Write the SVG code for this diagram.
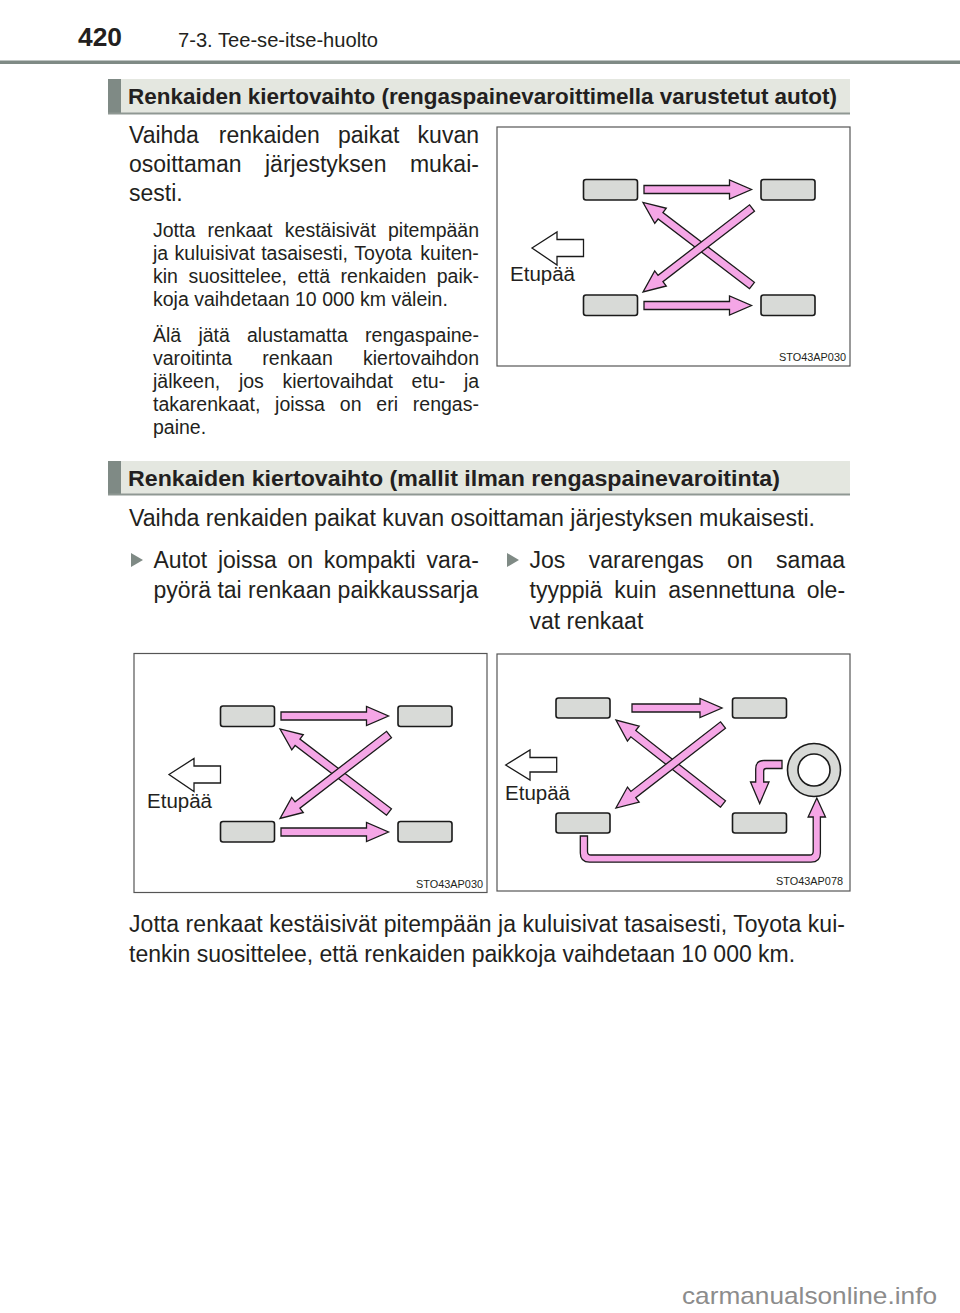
<svg xmlns="http://www.w3.org/2000/svg" width="960" height="1313" viewBox="0 0 960 1313">
<style>
text{font-family:"Liberation Sans",Arial,Helvetica,sans-serif;fill:#231f20}
.pg{font-weight:bold;font-size:25px}
.chap{font-size:19.5px}
.hdr{font-weight:bold;font-size:22px}
.body{font-size:23px}
.small{font-size:19.5px}
.lab{font-size:20px}
.code{font-size:11px}
.wm{font-size:24px;fill:#8c8c8c}
.band{fill:#e4e7e0}
.bar{fill:#7f8a85}
.fig{fill:#fff;stroke:#555;stroke-width:1.2}
.tyre{fill:#d8dad7;stroke:#1a1a1a;stroke-width:1.6}
.pink{fill:#f5a6e6;stroke:#1a1a1a;stroke-width:1.3;stroke-linejoin:miter}
.front{fill:#fff;stroke:#1a1a1a;stroke-width:1.3}
.bul{fill:#7f8a85}
</style>
<rect width="960" height="1313" fill="#fff"/>

<g id="page-header">
<text class="pg" x="78" y="46" textLength="44" lengthAdjust="spacingAndGlyphs">420</text>
<text class="chap" x="178" y="47" textLength="200" lengthAdjust="spacingAndGlyphs">7-3. Tee-se-itse-huolto</text>
<rect x="0" y="60.5" width="960" height="3.5" class="bar"/>
</g>

<g id="section1-header">
<rect x="108" y="79" width="742" height="35" class="band"/>
<rect x="108" y="79" width="13" height="35" class="bar"/>
<rect x="108" y="112.5" width="742" height="2" fill="#8f9893"/>
<text class="hdr" x="128" y="104" textLength="709" lengthAdjust="spacingAndGlyphs">Renkaiden kiertovaihto (rengaspainevaroittimella varustetut autot)</text>
</g>

<g id="section1-text">
<text class="body" y="143"><tspan x="129">Vaihda</tspan><tspan x="218.8">renkaiden</tspan><tspan x="338">paikat</tspan><tspan x="417.6">kuvan</tspan></text>
<text class="body" y="172"><tspan x="129">osoittaman</tspan><tspan x="265">järjestyksen</tspan><tspan x="409.9">mukai-</tspan></text>
<text class="body" x="129" y="201">sesti.</text>
<text class="small" y="237"><tspan x="153">Jotta</tspan><tspan x="207.5">renkaat</tspan><tspan x="284.8">kestäisivät</tspan><tspan x="388">pitempään</tspan></text>
<text class="small" y="260"><tspan x="153">ja</tspan><tspan x="174.6">kuluisivat</tspan><tspan x="261.2">tasaisesti,</tspan><tspan x="354.3">Toyota</tspan><tspan x="420.3">kuiten-</tspan></text>
<text class="small" y="283"><tspan x="153">kin</tspan><tspan x="188.4">suosittelee,</tspan><tspan x="297.6">että</tspan><tspan x="340.6">renkaiden</tspan><tspan x="436.7">paik-</tspan></text>
<text class="small" x="153" y="306">koja vaihdetaan 10 000 km välein.</text>
<text class="small" y="342"><tspan x="153">Älä</tspan><tspan x="198.4">jätä</tspan><tspan x="247">alustamatta</tspan><tspan x="365.1">rengaspaine-</tspan></text>
<text class="small" y="365"><tspan x="153">varoitinta</tspan><tspan x="262.3">renkaan</tspan><tspan x="363">kiertovaihdon</tspan></text>
<text class="small" y="388"><tspan x="153">jälkeen,</tspan><tspan x="238.9">jos</tspan><tspan x="282.4">kiertovaihdat</tspan><tspan x="411.6">etu-</tspan><tspan x="463.9">ja</tspan></text>
<text class="small" y="411"><tspan x="153">takarenkaat,</tspan><tspan x="275.1">joissa</tspan><tspan x="339.8">on</tspan><tspan x="376.3">eri</tspan><tspan x="412.8">rengas-</tspan></text>
<text class="small" x="153" y="434">paine.</text>
</g>

<g id="figure1">
<rect x="497" y="127" width="353" height="239" class="fig"/>
<rect x="583.5" y="179.5" width="54" height="20.5" rx="2.5" class="tyre"/>
<rect x="761" y="179.5" width="54" height="20.5" rx="2.5" class="tyre"/>
<rect x="583.5" y="295" width="54" height="20.5" rx="2.5" class="tyre"/>
<rect x="761" y="295" width="54" height="20.5" rx="2.5" class="tyre"/>
<path class="front" d="M532,248 L557,232 V239.5 H583.5 V256.5 H557 V265 Z"/>
<text class="lab" x="510" y="281" textLength="65" lengthAdjust="spacingAndGlyphs">Etupää</text>
<text class="code" x="779" y="361" textLength="67" lengthAdjust="spacingAndGlyphs">STO43AP030</text>
</g>

<g id="section2-header">
<rect x="108" y="461" width="742" height="34" class="band"/>
<rect x="108" y="461" width="13" height="34" class="bar"/>
<rect x="108" y="493.5" width="742" height="2" fill="#8f9893"/>
<text class="hdr" x="128" y="486" textLength="652" lengthAdjust="spacingAndGlyphs">Renkaiden kiertovaihto (mallit ilman rengaspainevaroitinta)</text>
</g>

<g id="section2-text">
<text class="body" x="129" y="526" textLength="686" lengthAdjust="spacingAndGlyphs">Vaihda renkaiden paikat kuvan osoittaman järjestyksen mukaisesti.</text>
<path class="bul" d="M131,553 L143,560 L131,567 Z"/>
<text class="body" y="568"><tspan x="153.5">Autot</tspan><tspan x="217.9">joissa</tspan><tspan x="287.4">on</tspan><tspan x="323.7">kompakti</tspan><tspan x="426.4">vara-</tspan></text>
<text class="body" x="153.5" y="598">pyörä tai renkaan paikkaussarja</text>
<path class="bul" d="M507,553 L519,560 L507,567 Z"/>
<text class="body" y="568"><tspan x="529.5">Jos</tspan><tspan x="588.7">vararengas</tspan><tspan x="727.1">on</tspan><tspan x="776.1">samaa</tspan></text>
<text class="body" y="598"><tspan x="529.5">tyyppiä</tspan><tspan x="614.3">kuin</tspan><tspan x="668.3">asennettuna</tspan><tspan x="806.7">ole-</tspan></text>
<text class="body" x="529.5" y="629">vat renkaat</text>
</g>

<g id="figure2-left" transform="translate(-363,526.5)">
<rect x="497" y="127" width="353" height="239" class="fig"/>
<rect x="583.5" y="179.5" width="54" height="20.5" rx="2.5" class="tyre"/>
<rect x="761" y="179.5" width="54" height="20.5" rx="2.5" class="tyre"/>
<rect x="583.5" y="295" width="54" height="20.5" rx="2.5" class="tyre"/>
<rect x="761" y="295" width="54" height="20.5" rx="2.5" class="tyre"/>
<path class="front" d="M532,248 L557,232 V239.5 H583.5 V256.5 H557 V265 Z"/>
<text class="lab" x="510" y="281" textLength="65" lengthAdjust="spacingAndGlyphs">Etupää</text>
<text class="code" x="779" y="361" textLength="67" lengthAdjust="spacingAndGlyphs">STO43AP030</text>
</g>

<g id="figure2-right">
<rect x="497" y="654" width="353" height="237" class="fig"/>
<rect x="556" y="698" width="54" height="20" rx="2.5" class="tyre"/>
<rect x="732.5" y="698" width="54" height="20" rx="2.5" class="tyre"/>
<rect x="556" y="813" width="54" height="20" rx="2.5" class="tyre"/>
<rect x="732.5" y="813" width="54" height="20" rx="2.5" class="tyre"/>
<circle cx="814" cy="770" r="26.5" fill="#d8dad7" stroke="#1a1a1a" stroke-width="1.6"/>
<circle cx="814" cy="770" r="16" fill="#fff" stroke="#1a1a1a" stroke-width="1.6"/>
<path class="front" d="M505.7,765 L530,750 V757.5 H556.7 V772 H530 V780 Z"/>
<text class="lab" x="505" y="800" textLength="65" lengthAdjust="spacingAndGlyphs">Etupää</text>
<text class="code" x="776" y="885" textLength="67" lengthAdjust="spacingAndGlyphs">STO43AP078</text>
</g>

<g id="connectors">
<path class="pink" transform="translate(644,189.5)" d="M0,-4 H85.5 V-9.5 L107.5,0 L85.5,9.5 V4 H0 Z"/>
<path class="pink" transform="translate(644,305.5)" d="M0,-4 H85.5 V-9.5 L107.5,0 L85.5,9.5 V4 H0 Z"/>
<path class="pink" transform="translate(752,285.5) rotate(217.3)" d="M0,-4 H115 V-9.5 L137,0 L115,9.5 V4 H0 Z"/>
<path class="pink" transform="translate(752,208) rotate(142.4)" d="M0,-4 H115.5 V-9.5 L137.5,0 L115.5,9.5 V4 H0 Z"/>

<g transform="translate(-363,526.5)">
<path class="pink" transform="translate(644,189.5)" d="M0,-4 H85.5 V-9.5 L107.5,0 L85.5,9.5 V4 H0 Z"/>
<path class="pink" transform="translate(644,305.5)" d="M0,-4 H85.5 V-9.5 L107.5,0 L85.5,9.5 V4 H0 Z"/>
<path class="pink" transform="translate(752,285.5) rotate(217.3)" d="M0,-4 H115 V-9.5 L137,0 L115,9.5 V4 H0 Z"/>
<path class="pink" transform="translate(752,208) rotate(142.4)" d="M0,-4 H115.5 V-9.5 L137.5,0 L115.5,9.5 V4 H0 Z"/>
</g>

<path class="pink" transform="translate(632,708)" d="M0,-4 H68 V-9.5 L90,0 L68,9.5 V4 H0 Z"/>
<path class="pink" transform="translate(723,804) rotate(218.1)" d="M0,-4 H114 V-9.5 L136,0 L114,9.5 V4 H0 Z"/>
<path class="pink" transform="translate(723,725) rotate(142.2)" d="M0,-4 H113.5 V-9.5 L135.5,0 L113.5,9.5 V4 H0 Z"/>
<path class="pink" d="M782,760.5 H764 Q755.7,760.5 755.7,769 V782 H750.5 L759.7,803.5 L769,782 H763.7 V771 Q763.7,768.5 766.2,768.5 H782 Z"/>
<path class="pink" d="M580.3,836 V853 Q580.3,862.2 589.5,862.2 H811 Q820.4,862.2 820.4,853 V817 H825.5 L816.8,798 L808.1,817 H813.2 V851.5 Q813.2,855 809.7,855 H591 Q587.5,855 587.5,851.5 V836 Z"/>
</g>

<g id="closing-text">
<text class="body" x="129" y="932" textLength="716" lengthAdjust="spacing">Jotta renkaat kestäisivät pitempään ja kuluisivat tasaisesti, Toyota kui-</text>
<text class="body" x="129" y="962">tenkin suosittelee, että renkaiden paikkoja vaihdetaan 10 000 km.</text>
</g>

<text class="wm" x="682" y="1304" textLength="255" lengthAdjust="spacingAndGlyphs">carmanualsonline.info</text>
</svg>
